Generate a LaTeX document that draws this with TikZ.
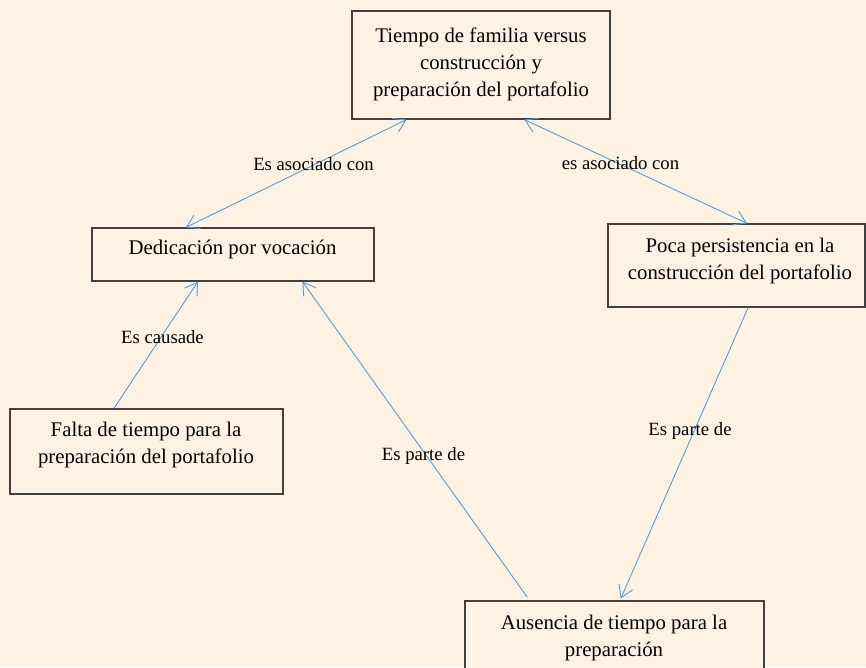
\documentclass[tikz,border=0pt]{standalone}
\usepackage{fontspec}
\setmainfont{Liberation Serif}
\usetikzlibrary{arrows.meta,calc}
\definecolor{bg}{RGB}{254,243,227}
\definecolor{lnk}{RGB}{91,155,213}
\definecolor{edgegray}{RGB}{64,64,64}
\tikzset{barb/.tip={Straight Barb[length=12pt,width=15pt]}}
\begin{document}
\begin{tikzpicture}[x=1pt,y=-1pt,
  box/.style={draw=edgegray,line width=1.1pt,fill=bg,inner sep=0pt,rectangle},
  txt/.style={inner sep=0pt,align=center,font=\fontsize{20.8}{27}\selectfont},
  lbl/.style={inner sep=0pt,anchor=base,font=\fontsize{18.7}{22}\selectfont},
  conn/.style={draw=lnk,line width=0.9pt}]
\fill[bg] (0,0) rectangle (866,667);
\useasboundingbox (0,0) rectangle (866,667);
\clip (0,0) rectangle (866,667);

% boxes
\node[box,minimum width=258pt,minimum height=108pt] (top) at (481,65) {};
\node[box,minimum width=282pt,minimum height=53pt] (ded) at (233,254.5) {};
\node[box,minimum width=257pt,minimum height=83pt] (poca) at (736.5,265.5) {};
\node[box,minimum width=273pt,minimum height=85pt] (falta) at (146.5,451.5) {};
\node[box,minimum width=299pt,minimum height=99pt] (aus) at (614.5,650.5) {};

% box texts
\node[txt] (toptext) at (481,64) {Tiempo de familia versus\\construcción y\\preparación del portafolio};
\node[txt] (dedtext) at (232.5,249) {Dedicación por vocación};
\node[txt] (pocatext) at (740,261) {Poca persistencia en la\\construcción del portafolio};
\node[txt] (faltatext) at (146,445) {Falta de tiempo para la\\preparación del portafolio};
\node[txt] (austext) at (614,638) {Ausencia de tiempo para la\\preparación};

% connectors
\draw[conn,barb-barb] ($(top.south west)!0.213!(top.south east)$) -- ($(ded.north west)!0.333!(ded.north east)$);
\draw[conn,barb-barb] ($(top.south west)!0.667!(top.south east)$) -- ($(poca.north west)!0.541!(poca.north east)$);
\draw[conn,-barb] ($(falta.north west)!0.381!(falta.north east)$) -- ($(ded.south west)!0.376!(ded.south east)$);
\draw[conn,-barb,shorten <=4pt] ($(aus.north west)!0.217!(aus.north east)$) -- ($(ded.south west)!0.745!(ded.south east)$);
\draw[conn,-barb,shorten >=2pt] ($(poca.south west)!0.545!(poca.south east)$) -- ($(aus.north west)!0.518!(aus.north east)$);

% labels
\node[lbl] (l1) at (313.5,170) {Es asociado con};
\node[lbl] (l2) at (620.5,169) {es asociado con};
\node[lbl] (l3) at (162.5,343) {Es causade};
\node[lbl] (l4) at (423.5,460) {Es parte de};
\node[lbl] (l5) at (690,435) {Es parte de};
\end{tikzpicture}
\end{document}
